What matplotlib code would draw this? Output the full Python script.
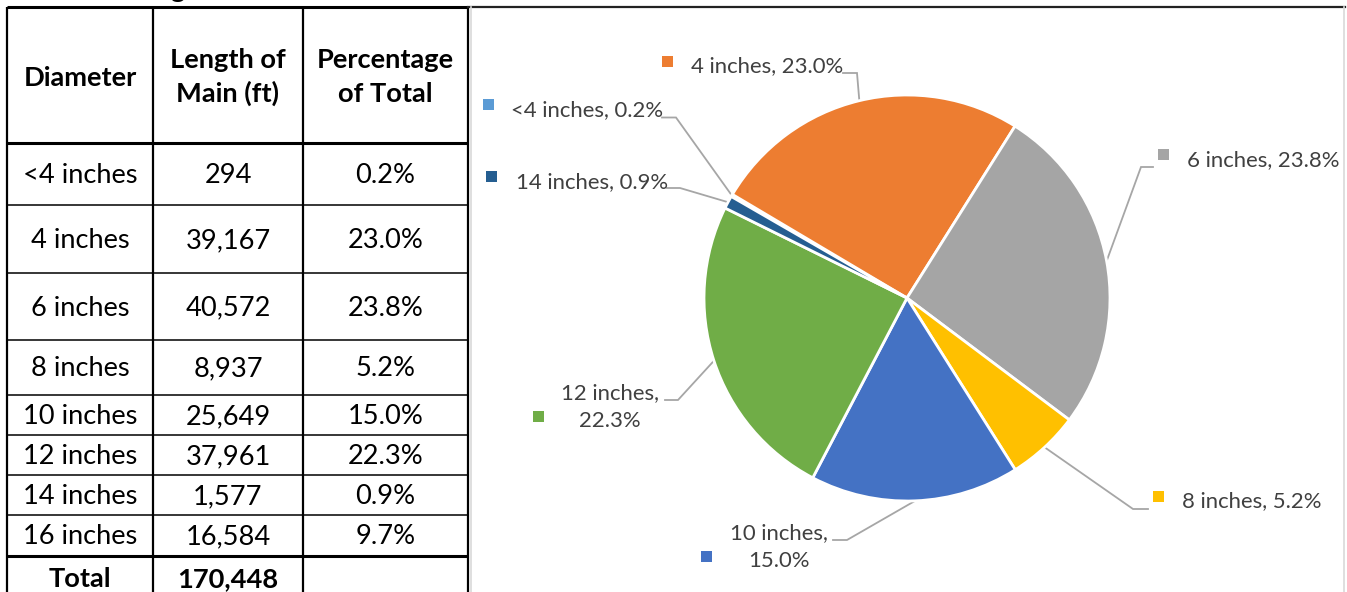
import numpy as np
import matplotlib
matplotlib.use('Agg')
import matplotlib.pyplot as plt
from matplotlib.patches import Rectangle

# ---------------- data ----------------
diameters = ['<4 inches', '4 inches', '6 inches', '8 inches', '10 inches',
             '12 inches', '14 inches', '16 inches']
lengths = [294, 39167, 40572, 8937, 25649, 37961, 1577, 16584]
percents = [0.2, 23.0, 23.8, 5.2, 15.0, 22.3, 0.9, 9.7]
total_length = 170448
header = [['Diameter'], ['Length of', 'Main (ft)'], ['Percentage', 'of Total']]

# pie shows the first seven diameters
pie_count = 7
pie_colors = ['#5B9BD5', '#ED7D31', '#A5A5A5', '#FFC000', '#4472C4', '#70AD47', '#255E91']

plt.rcParams['font.family'] = ['Lato', 'DejaVu Sans']

W, H = 1347, 592
fig = plt.figure(figsize=(W / 100, H / 100), dpi=100)
ov = fig.add_axes([0, 0, 1, 1], zorder=0)
ov.set_xlim(0, W)
ov.set_ylim(H, 0)
ov.axis('off')

# ---------------- table ----------------
col_x = [7, 153, 303, 468]
row_y = [7, 143, 205, 273, 340, 395, 435, 475, 515, 556, 600]
TFS = 19.6

for x in col_x:
    ov.plot([x, x], [row_y[0], H + 5], color='black', lw=1.6, solid_capstyle='butt')
for i, y in enumerate(row_y[:-1]):
    lw = 1.1
    if i in (0, 1, 9):
        lw = 2.2
    ov.plot([col_x[0], col_x[-1]], [y, y], color='black', lw=lw, solid_capstyle='butt')

col_c = [(col_x[i] + col_x[i + 1]) / 2 for i in range(3)]
header_baselines = {1: [86], 2: [68, 102]}
for j, lines in enumerate(header):
    for line, yb in zip(lines, header_baselines[len(lines)]):
        ov.text(col_c[j], yb, line, ha='center', va='baseline',
                fontsize=TFS, fontweight='bold', color='black')

for i, d in enumerate(diameters):
    yc = (row_y[i + 1] + row_y[i + 2]) / 2 + 1.5
    ov.text(col_c[0], yc, d, ha='center', va='center', fontsize=TFS, color='black')
    ov.text(col_c[1], yc, f'{lengths[i]:,}', ha='center', va='center', fontsize=TFS, color='black')
    ov.text(col_c[2], yc, f'{percents[i]:.1f}%', ha='center', va='center', fontsize=TFS, color='black')

ytot = 579
ov.text(col_c[0], ytot, 'Total', ha='center', va='center', fontsize=TFS, fontweight='bold')
ov.text(col_c[1], ytot, f'{total_length:,}', ha='center', va='center', fontsize=TFS, fontweight='bold')

# cut-off title descender at top
ov.text(178, -2, 'g', ha='center', va='baseline', fontsize=TFS, fontweight='bold')

# ---------------- chart frame ----------------
ov.plot([col_x[-1], W - 2], [6.5, 6.5], color='#222222', lw=1.6)
ov.plot([471, 471], [7, H], color='#D9D9D9', lw=1.2)
ov.plot([1344, 1344], [7, H], color='#D9D9D9', lw=1.2)

# ---------------- pie ----------------
cx, cy, R = 907, 298, 203
pax = fig.add_axes([(cx - R) / W, (H - cy - R) / H, 2 * R / W, 2 * R / H], zorder=2)
wedges, _ = pax.pie(lengths[:pie_count], colors=pie_colors, startangle=150,
                    counterclock=False,
                    wedgeprops=dict(edgecolor='white', linewidth=2.0))
pax.set_xlim(-1, 1)
pax.set_ylim(-1, 1)
pax.axis('off')

# label layout: text x, baselines, alignment, marker centre, leader start + elbow
label_layout = [
    dict(x=511, y=[116], ha='left', sq=(488, 104), lead=[(662, 117.5), (676, 117.5)]),
    dict(x=691, y=[72], ha='left', sq=(667, 61), lead=[(843, 73), (857, 73)]),
    dict(x=1187, y=[166], ha='left', sq=(1163, 154), lead=[(1153, 167), (1141, 167)]),
    dict(x=1182, y=[507], ha='left', sq=(1158, 496), lead=[(1148, 509), (1133, 509)]),
    dict(x=779, y=[539, 567], ha='center', sq=(706, 556), lead=[(833, 540), (847, 540)]),
    dict(x=610, y=[399, 427], ha='center', sq=(538, 416), lead=[(665, 400), (678, 400)]),
    dict(x=516, y=[188], ha='left', sq=(491, 176), lead=[(667, 188), (680, 188)]),
]
LFS = 15.9
for i in range(pie_count):
    lay = label_layout[i]
    w = wedges[i]
    mid = np.deg2rad((w.theta1 + w.theta2) / 2)
    ex, ey = cx + R * np.cos(mid), cy - R * np.sin(mid)
    pts = lay['lead'] + [(ex, ey)]
    ov.plot([p[0] for p in pts], [p[1] for p in pts], color='#A6A6A6', lw=1.3,
            solid_joinstyle='miter')
    if len(lay['y']) == 2:
        lines = [f'{diameters[i]},', f'{percents[i]:.1f}%']
    else:
        lines = [f'{diameters[i]}, {percents[i]:.1f}%']
    for line, yb in zip(lines, lay['y']):
        ov.text(lay['x'], yb, line, ha=lay['ha'], va='baseline', fontsize=LFS,
                color='#404040')
    s = 11
    ov.add_patch(Rectangle((lay['sq'][0] - s / 2, lay['sq'][1] - s / 2), s, s,
                           facecolor=pie_colors[i], edgecolor='none'))

fig.savefig('out.png', dpi=100)
